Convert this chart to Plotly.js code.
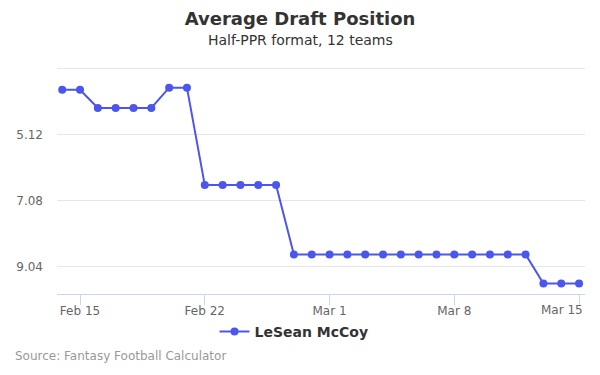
<!DOCTYPE html>
<html>
<head>
<meta charset="utf-8">
<script src="https://cdn.plot.ly/plotly-3.0.1.min.js"></script>
<style>html,body{margin:0;padding:0;background:#fff;}#chart{width:600px;height:375px;}</style>
</head>
<body>
<div id="chart"></div>
<script>
const dates = ['2019-02-14','2019-02-15','2019-02-16','2019-02-17','2019-02-18','2019-02-19','2019-02-20','2019-02-21','2019-02-22','2019-02-23','2019-02-24','2019-02-25','2019-02-26','2019-02-27','2019-02-28','2019-03-01','2019-03-02','2019-03-03','2019-03-04','2019-03-05','2019-03-06','2019-03-07','2019-03-08','2019-03-09','2019-03-10','2019-03-11','2019-03-12','2019-03-13','2019-03-14','2019-03-15'];
const adp = [3.80,3.80,4.34,4.34,4.34,4.34,3.74,3.74,6.62,6.62,6.62,6.62,6.62,8.67,8.67,8.67,8.67,8.67,8.67,8.67,8.67,8.67,8.67,8.67,8.67,8.67,8.67,9.53,9.53,9.53];
const yTickVals = [3.16,5.12,7.08,9.04];
const yTickText = ['','5.12','7.08','9.04'];
const xTickVals = ['2019-02-15','2019-02-22','2019-03-01','2019-03-08','2019-03-15'];
const xTickText = ['Feb 15','Feb 22','Mar 1','Mar 8','Mar 15'];
const seriesName = 'LeSean McCoy';
const color = '#4b56ee';
const font = 'DejaVu Sans, sans-serif';

// last tick label is drawn pulled inside the plot, as in the reference
const lastLabel = xTickText[xTickText.length - 1];
const xTickTextShown = xTickText.map((t, i) => i === xTickText.length - 1 ? '' : t);

const T = 66, B = 81, H = 375 - T - B;

const trace = {
  x: dates, y: adp, type: 'scatter', mode: 'lines+markers', name: seriesName,
  line: {color: color, width: 2},
  marker: {color: color, size: 8},
  hoverinfo: 'x+y'
};
const layout = {
  width: 600, height: 375,
  margin: {l: 57, r: 15, t: T, b: B},
  paper_bgcolor: '#fff', plot_bgcolor: '#fff',
  font: {family: font, color: '#666', size: 12},
  title: {text: '<b>Average Draft Position</b>', x: 0.5, xanchor: 'center', y: 0.967, yanchor: 'top', font: {family: font, size: 18, color: '#333'}},
  showlegend: true,
  legend: {orientation: 'h', x: (300 - 6 - 57) / 528, xanchor: 'center', y: -22/H, yanchor: 'top', font: {family: font, size: 14, color: '#333', weight: 'bold'}},
  xaxis: {
    type: 'date', range: ['2019-02-13 17:00', '2019-03-15 08:00'],
    tickvals: xTickVals, ticktext: xTickTextShown,
    showgrid: false, showline: true, linecolor: '#ccd6eb', linewidth: 1,
    ticks: 'outside', ticklen: 10, tickcolor: '#ccd6eb', tickwidth: 1,
    ticklabelstandoff: -4,
    tickfont: {family: font, size: 12, color: '#666'}, zeroline: false, fixedrange: true
  },
  yaxis: {
    range: [9.84, 3.10], tickvals: yTickVals, ticktext: yTickText,
    showgrid: true, gridcolor: '#e6e6e6', gridwidth: 1, zeroline: false, showline: false,
    ticks: '', ticklabelstandoff: 13,
    tickfont: {family: font, size: 12, color: '#666'}, fixedrange: true
  },
  annotations: [
    {text: 'Half-PPR format, 12 teams', xref: 'paper', yref: 'paper', x: (300 - 57) / 528, xanchor: 'center', y: 1 + (T-40)/H, yanchor: 'middle', showarrow: false, font: {family: font, size: 14, color: '#333'}},
    {text: lastLabel, xref: 'paper', yref: 'paper', x: 1, xanchor: 'right', y: -(310-294)/H, yanchor: 'middle', showarrow: false, font: {family: font, size: 12, color: '#666'}},
    {text: 'Source: Fantasy Football Calculator', xref: 'paper', yref: 'paper', x: -44/528, xanchor: 'left', y: -(356-294)/H, yanchor: 'middle', showarrow: false, font: {family: font, size: 12, color: '#999'}}
  ]
};
Plotly.newPlot('chart', [trace], layout, {displayModeBar: false, staticPlot: true});
</script>
</body>
</html>
